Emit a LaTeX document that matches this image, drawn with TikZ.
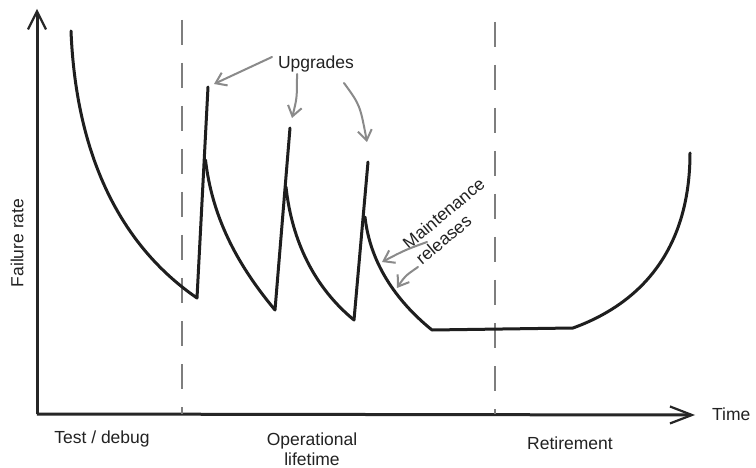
\documentclass[tikz,border=0pt]{standalone}
\usepackage{fontspec}
\setmainfont{Liberation Sans}
\usetikzlibrary{arrows.meta}
\definecolor{ink}{HTML}{1E1E1E}
\definecolor{axisc}{HTML}{262626}
\definecolor{dashc}{HTML}{7E7E7E}
\definecolor{notec}{HTML}{8A8A8A}
\definecolor{textc}{HTML}{222222}
\tikzset{
  curve/.style={draw=ink, line width=3pt, line join=round, line cap=round},
  axisline/.style={draw=axisc, line width=3pt},
  phase/.style={draw=dashc, line width=2.4pt, dash pattern=on 25pt off 18pt},
  note/.style={draw=notec, line width=2pt, line cap=round, -{Straight Barb[length=10pt,width=14pt,line width=2pt]}},
  lbl/.style={text=textc, font=\fontsize{17.5}{20}\selectfont, inner sep=0pt, align=center}
}
\begin{document}
\begin{tikzpicture}[x=1pt,y=-1pt]
\useasboundingbox (0,0) rectangle (756,468);
\fill[white] (0,0) rectangle (756,468);
% axes
\coordinate (orig) at (37,414);
\coordinate (ytop) at (37,9);
\coordinate (xend) at (695,415);
\draw[axisline, -{Straight Barb[length=18pt,width=18pt,line width=2.2pt]}] (orig) -- (ytop);
\draw[axisline, -{Straight Barb[length=22pt,width=17pt,line width=2.2pt]}] (orig) -- (xend);
% phase separators
\coordinate (d1t) at (182,20);
\coordinate (d1b) at (182,414);
\coordinate (d2t) at (495,22);
\coordinate (d2b) at (495,414);
\draw[phase] (d1t) -- (d1b);
\draw[phase] (d2t) -- (d2b);
% failure rate curve
\coordinate (c0) at (71,31);
\coordinate (b1) at (197,298);
\coordinate (p1) at (208,87);
\coordinate (s1) at (205.5,160);
\coordinate (b2) at (275,310);
\coordinate (p2) at (290,128);
\coordinate (s2) at (286,187);
\coordinate (b3) at (354,320);
\coordinate (p3) at (368,162);
\coordinate (s3) at (365,217);
\coordinate (f1) at (432,330);
\coordinate (f2) at (573,328);
\coordinate (e1) at (690,153);
\draw[curve] (c0) .. controls (76,155) and (120,245) .. (b1) -- (p1);
\draw[curve] (s1) .. controls (212,215) and (235,262) .. (b2) -- (p2);
\draw[curve] (s2) .. controls (292,242) and (315,288) .. (b3) -- (p3);
\draw[curve] (s3) .. controls (370,262) and (395,300) .. (f1) -- (f2)
  .. controls (650,300) and (690,240) .. (e1);
% labels
\node[lbl, rotate=90] (fr) at (17,243) {Failure rate};
\node[lbl, anchor=west] (time) at (712,414) {Time};
\node[lbl] (test) at (102,439) {Test / debug};
\node[lbl] (oper) at (312,449) {Operational\\lifetime};
\node[lbl] (ret) at (570,443) {Retirement};
\node[lbl] (upg) at (316,64) {Upgrades};
\node[lbl, align=left, rotate=40] (maint) at (450,221) {Maintenance\\releases};
% annotation arrows
\coordinate (u1s) at (272,57);
\coordinate (u1e) at (214,84);
\coordinate (u2s) at (297,74);
\coordinate (u2e) at (292,118);
\coordinate (u3s) at (344,83);
\coordinate (u3e) at (367,142);
\coordinate (m1s) at (427,242);
\coordinate (m1e) at (382,262);
\coordinate (m2s) at (418,267);
\coordinate (m2e) at (397,288);
\draw[note] (u1s) -- (u1e);
\draw[note] (u2s) .. controls (297,98) .. (u2e);
\draw[note] (u3s) .. controls (360,105) .. (u3e);
\draw[note] (m1s) .. controls (405,250) .. (m1e);
\draw[note] (m2s) .. controls (405,276) .. (m2e);
\end{tikzpicture}
\end{document}
